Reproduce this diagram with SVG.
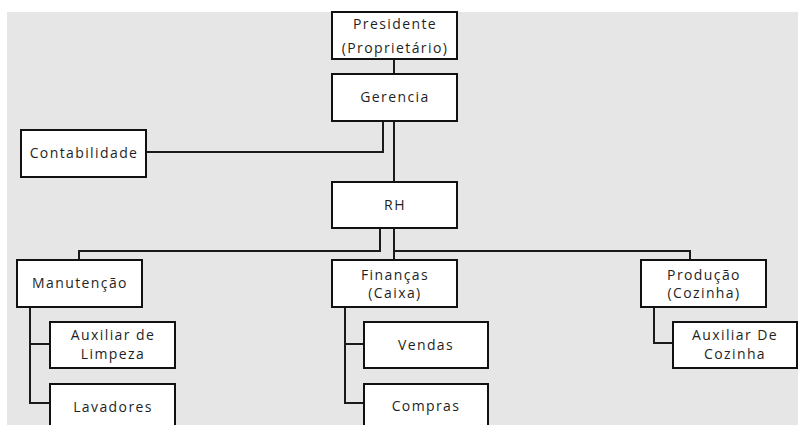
<svg xmlns="http://www.w3.org/2000/svg" width="798" height="425" viewBox="0 0 798 425">
<style>
.box{fill:#ffffff;stroke:#111111;stroke-width:2}
.lbl{font-family:"Open Sans","Noto Sans",sans-serif;font-size:14px;letter-spacing:1.4px;fill:#1f1f1f;text-anchor:middle}
.conn{fill:none;stroke:#1a1a1a;stroke-width:2}
</style>
<rect x="0" y="0" width="798" height="425" fill="#ffffff"/>
<rect x="7" y="12" width="791" height="413" fill="#e6e6e6"/>
<g id="connectors">
<path class="conn" d="M394 59 V74"/>
<path class="conn" d="M146 152 H383 V121"/>
<path class="conn" d="M394 121 V182"/>
<path class="conn" d="M380 228 V251 H79 V260"/>
<path class="conn" d="M394 228 V260"/>
<path class="conn" d="M394 251 H690 V260"/>
<path class="conn" d="M30 307 V403 H50 M30 344 H50"/>
<path class="conn" d="M345 307 V403 H364 M345 344 H364"/>
<path class="conn" d="M654 307 V343 H673"/>
</g>
<g id="presidente"><rect class="box" x="332" y="12" width="125" height="47"/><text class="lbl" x="395" y="29">Presidente</text><text class="lbl" x="395" y="53">(Proprietário)</text></g>
<g id="gerencia"><rect class="box" x="332" y="74" width="125" height="47"/><text class="lbl" x="395" y="102">Gerencia</text></g>
<g id="contabilidade"><rect class="box" x="21" y="130" width="125" height="47"/><text class="lbl" x="84" y="158">Contabilidade</text></g>
<g id="rh"><rect class="box" x="332" y="182" width="125" height="46"/><text class="lbl" x="395" y="210">RH</text></g>
<g id="manutencao"><rect class="box" x="17" y="260" width="125" height="47"/><text class="lbl" x="80" y="288">Manutenção</text></g>
<g id="financas"><rect class="box" x="332" y="260" width="125" height="47"/><text class="lbl" x="395" y="280">Finanças</text><text class="lbl" x="395" y="298">(Caixa)</text></g>
<g id="producao"><rect class="box" x="641" y="260" width="125" height="47"/><text class="lbl" x="704" y="280">Produção</text><text class="lbl" x="704" y="298">(Cozinha)</text></g>
<g id="auxiliar-limpeza"><rect class="box" x="50" y="322" width="125" height="46"/><text class="lbl" x="113" y="340">Auxiliar de</text><text class="lbl" x="113" y="359">Limpeza</text></g>
<g id="lavadores"><rect class="box" x="50" y="384" width="125" height="50"/><text class="lbl" x="113" y="412">Lavadores</text></g>
<g id="vendas"><rect class="box" x="364" y="322" width="124" height="46"/><text class="lbl" x="426" y="350">Vendas</text></g>
<g id="compras"><rect class="box" x="364" y="384" width="124" height="50"/><text class="lbl" x="426" y="411">Compras</text></g>
<g id="auxiliar-cozinha"><rect class="box" x="673" y="322" width="124" height="46"/><text class="lbl" x="735" y="340">Auxiliar De</text><text class="lbl" x="735" y="359">Cozinha</text></g>
</svg>
